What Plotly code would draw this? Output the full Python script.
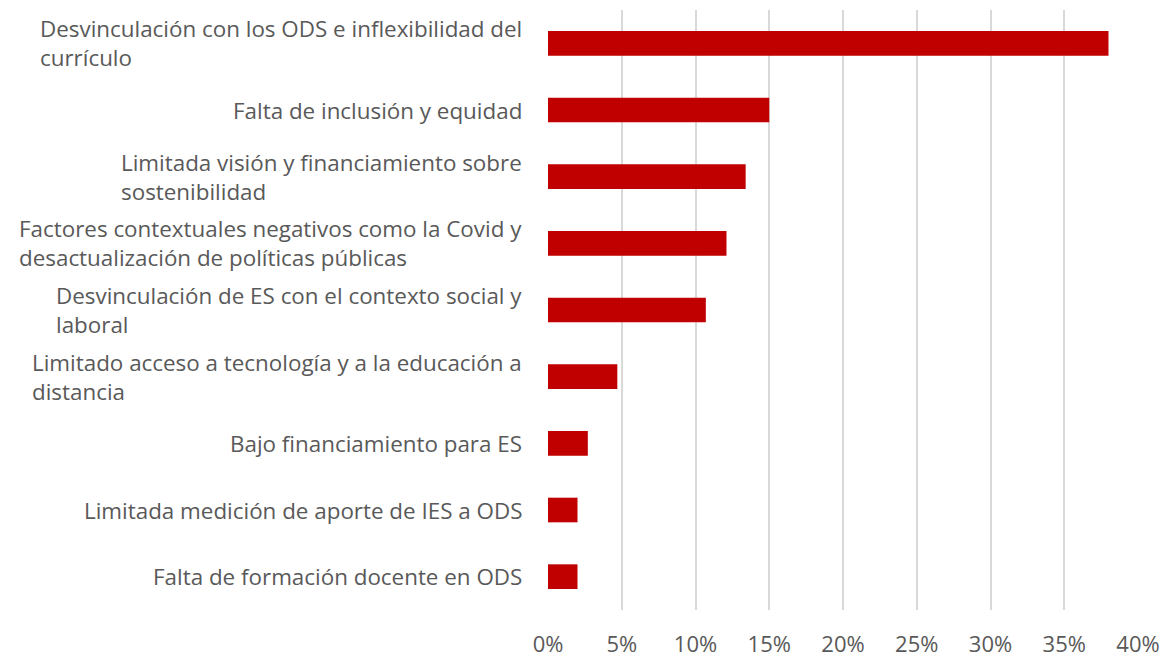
import plotly.graph_objects as go

labels = [
    'Desvinculación con los ODS e inflexibilidad del<br>currículo',
    'Falta de inclusión y equidad',
    'Limitada visión y financiamiento sobre<br>sostenibilidad',
    'Factores contextuales negativos como la Covid y<br>desactualización de políticas públicas',
    'Desvinculación de ES con el contexto social y<br>laboral',
    'Limitado acceso a tecnología y a la educación a<br>distancia',
    'Bajo financiamiento para ES',
    'Limitada medición de aporte de IES a ODS',
    'Falta de formación docente en ODS',
]
values = [0.38, 0.15, 0.134, 0.121, 0.107, 0.047, 0.027, 0.020, 0.020]

cats = [l.replace('<br>', ' ') for l in labels]
txt = '#595959'

fig = go.Figure()
fig.add_trace(go.Bar(x=values, y=cats, orientation='h',
                     marker=dict(color='#C00000', line=dict(width=0))))

for c, l in zip(cats, labels):
    fig.add_annotation(x=0, xref='paper', y=c, yref='y', text=l,
                       xanchor='right', yanchor='middle', align='left',
                       xshift=-24, showarrow=False,
                       font=dict(family='Open Sans', size=22.4, color=txt))

# page has an 8px body margin, so the figure is a bit smaller than the window
fig.update_layout(
    width=1163, height=653,
    margin=dict(l=540, r=33, t=2, b=51),
    plot_bgcolor='white', paper_bgcolor='white',
    bargap=0.63, showlegend=False,
    font=dict(family='Open Sans', size=22, color=txt),
    xaxis=dict(range=[0, 0.40], dtick=0.05, tickformat='.0%',
               showgrid=True, gridcolor='#D9D9D9', gridwidth=2,
               zeroline=False, showline=False, automargin=False,
               ticks='outside', ticklen=15, tickcolor='rgba(0,0,0,0)'),
    yaxis=dict(autorange='reversed', showticklabels=False, showgrid=False,
               zeroline=False, showline=False, automargin=False),
)

fig.write_html('out.html')
